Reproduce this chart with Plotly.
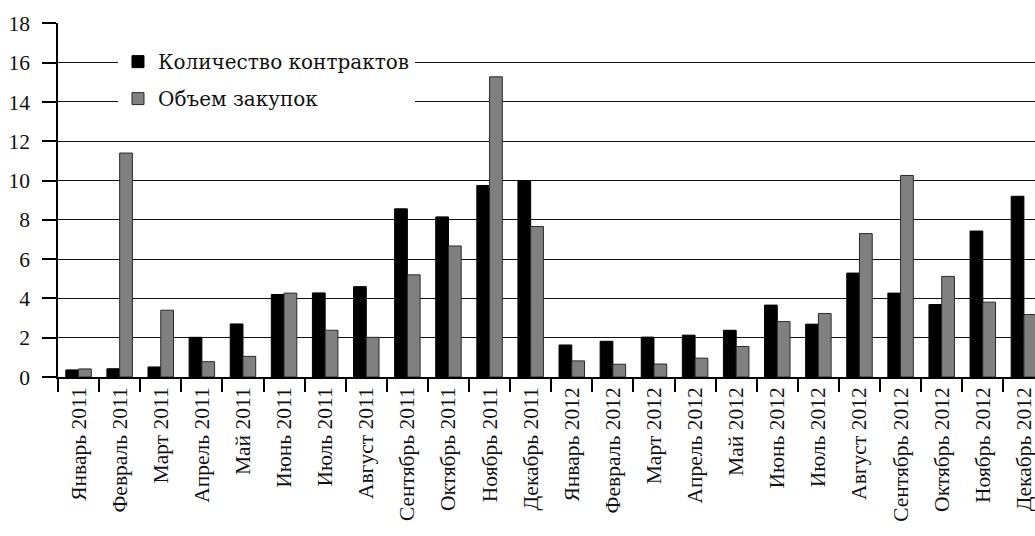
import plotly.graph_objects as go

months = ["Январь 2011", "Февраль 2011", "Март 2011", "Апрель 2011", "Май 2011", "Июнь 2011",
          "Июль 2011", "Август 2011", "Сентябрь 2011", "Октябрь 2011", "Ноябрь 2011", "Декабрь 2011",
          "Январь 2012", "Февраль 2012", "Март 2012", "Апрель 2012", "Май 2012", "Июнь 2012",
          "Июль 2012", "Август 2012", "Сентябрь 2012", "Октябрь 2012", "Ноябрь 2012", "Декабрь 2012"]

contracts = [0.36, 0.42, 0.51, 2.02, 2.7, 4.2, 4.28, 4.6, 8.56, 8.15, 9.75, 10.0,
             1.63, 1.82, 2.03, 2.13, 2.38, 3.66, 2.69, 5.29, 4.27, 3.69, 7.43, 9.2]
volume = [0.41, 11.4, 3.4, 0.78, 1.05, 4.27, 2.38, 2.02, 5.2, 6.67, 15.28, 7.66,
          0.82, 0.65, 0.66, 0.96, 1.55, 2.82, 3.23, 7.3, 10.26, 5.12, 3.81, 3.18]

y_ticks = [0, 2, 4, 6, 8, 10, 12, 14, 16, 18]

FONT = "Liberation Serif"
LEGEND_FONT = "DejaVu Serif"

fig = go.Figure()
fig.add_trace(go.Bar(x=months, y=contracts, name="Количество контрактов",
                     marker=dict(color="#000000", line=dict(color="#000000", width=1)),
                     legendgroup="a"))
fig.add_trace(go.Bar(x=months, y=volume, name="Объем закупок",
                     marker=dict(color="#808080", line=dict(color="#2a2a2a", width=1)),
                     legendgroup="b"))

fig.update_layout(
    width=1035, height=536,
    margin=dict(l=58, r=0, t=23, b=159, pad=0),
    paper_bgcolor="white", plot_bgcolor="white",
    font=dict(family=FONT, size=21, color="#111111"),
    barmode="group", bargap=0.38, bargroupgap=0,
    showlegend=True,
    legend=dict(x=0.0614, y=0.946, xanchor="left", yanchor="top",
                bgcolor="white", borderwidth=0, tracegroupgap=8,
                traceorder="grouped", font=dict(family=LEGEND_FONT, size=20, color="#111111")),
)

fig.update_xaxes(
    type="category", range=[-0.5, 23.27],
    showline=True, linecolor="#000000", linewidth=1.5,
    ticks="outside", ticklen=13, tickcolor="#000000", tickwidth=1.5,
    tickson="boundaries", tickangle=-90,
    tickfont=dict(family=FONT, size=21.5, color="#111111"),
    showgrid=False,
)
fig.update_yaxes(
    range=[0, 18.02], tickvals=y_ticks,
    showline=True, linecolor="#000000", linewidth=1.5,
    ticks="outside", ticklen=14, tickcolor="#000000", tickwidth=1.5,
    showgrid=True, gridcolor="#111111", gridwidth=1.4,
    zeroline=False,
    ticklabelstandoff=8,
    tickfont=dict(family=FONT, size=21.5, color="#111111"),
)

fig.write_html("out.html")
